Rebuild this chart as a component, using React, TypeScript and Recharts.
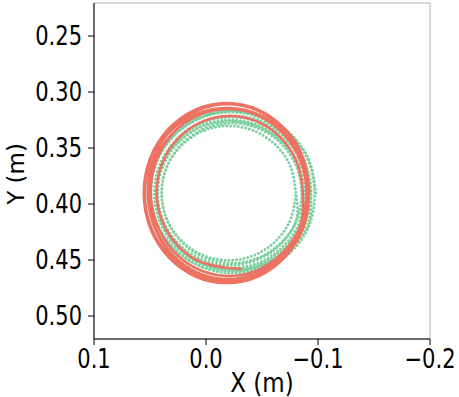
import React from "react";
import { ComposedChart, Line, XAxis, YAxis, CartesianGrid } from "recharts";

// Tick labels
const xTicks = [0.1, 0.0, -0.1, -0.2];
const yTicks = [0.25, 0.3, 0.35, 0.4, 0.45, 0.5];

const redLoop1: [number, number][] = [
  [-0.0926, 0.3902], [-0.087, 0.3594], [-0.0709, 0.3334], [-0.0469, 0.3159],
  [-0.0185, 0.3098], [0.0099, 0.3159], [0.0339, 0.3334], [0.05, 0.3594],
  [0.0556, 0.3902], [0.05, 0.421], [0.0339, 0.447], [0.0099, 0.4645],
  [-0.0185, 0.4706], [-0.0469, 0.4645], [-0.0709, 0.447], [-0.087, 0.421],
];
const redLoop2: [number, number][] = [
  [-0.0917, 0.3902], [-0.0861, 0.3598], [-0.0703, 0.334], [-0.0465, 0.3167],
  [-0.0185, 0.3107], [0.0095, 0.3167], [0.0333, 0.334], [0.0491, 0.3598],
  [0.0547, 0.3902], [0.0491, 0.4206], [0.0333, 0.4464], [0.0095, 0.4637],
  [-0.0185, 0.4697], [-0.0465, 0.4637], [-0.0703, 0.4464], [-0.0861, 0.4206],
];
const redLoop3: [number, number][] = [
  [-0.0908, 0.3893], [-0.0854, 0.3592], [-0.0699, 0.3337], [-0.0467, 0.3167],
  [-0.0194, 0.3107], [0.0079, 0.3167], [0.0311, 0.3337], [0.0466, 0.3592],
  [0.052, 0.3893], [0.0466, 0.4194], [0.0311, 0.4449], [0.0079, 0.4619],
  [-0.0194, 0.4679], [-0.0467, 0.4619], [-0.0699, 0.4449], [-0.0854, 0.4194],
];
const redLoop4: [number, number][] = [
  [-0.0899, 0.3911], [-0.0844, 0.3617], [-0.0687, 0.3368], [-0.0453, 0.3201],
  [-0.0176, 0.3143], [0.0101, 0.3201], [0.0335, 0.3368], [0.0492, 0.3617],
  [0.0547, 0.3911], [0.0492, 0.4205], [0.0335, 0.4454], [0.0101, 0.4621],
  [-0.0176, 0.4679], [-0.0453, 0.4621], [-0.0687, 0.4454], [-0.0844, 0.4205],
];
const redLoop5: [number, number][] = [
  [-0.0899, 0.3911], [-0.0845, 0.362], [-0.0692, 0.3374], [-0.0464, 0.321],
  [-0.0194, 0.3152], [0.0076, 0.321], [0.0304, 0.3374], [0.0457, 0.362],
  [0.0511, 0.3911], [0.0457, 0.4202], [0.0304, 0.4448], [0.0076, 0.4613],
  [-0.0194, 0.467], [-0.0464, 0.4613], [-0.0692, 0.4448], [-0.0845, 0.4202],
];
const redLoop6: [number, number][] = [
  [-0.0899, 0.3893], [-0.0846, 0.3606], [-0.0695, 0.3363], [-0.047, 0.32],
  [-0.0203, 0.3143], [0.0064, 0.32], [0.0289, 0.3363], [0.044, 0.3606],
  [0.0493, 0.3893], [0.044, 0.418], [0.0289, 0.4423], [0.0064, 0.4586],
  [-0.0203, 0.4643], [-0.047, 0.4586], [-0.0695, 0.4423], [-0.0846, 0.418],
];
const redLoop7: [number, number][] = [
  [-0.0864, 0.3893], [-0.0814, 0.3633], [-0.0673, 0.3413], [-0.0462, 0.3266],
  [-0.0212, 0.3214], [0.0038, 0.3266], [0.0249, 0.3413], [0.039, 0.3633],
  [0.044, 0.3893], [0.039, 0.4153], [0.0249, 0.4373], [0.0038, 0.452],
  [-0.0212, 0.4572], [-0.0319, 0.458],
];

// Reference trajectory (green, dotted)
const greenLoop1: [number, number][] = [
  [-0.098, 0.3902], [-0.0923, 0.3618], [-0.076, 0.3378], [-0.0517, 0.3217],
  [-0.023, 0.3161], [0.0057, 0.3217], [0.03, 0.3378], [0.0463, 0.3618],
  [0.052, 0.3902], [0.0463, 0.4186], [0.03, 0.4426], [0.0057, 0.4587],
  [-0.023, 0.4643], [-0.0517, 0.4587], [-0.076, 0.4426], [-0.0923, 0.4186],
];
const greenLoop2: [number, number][] = [
  [-0.097, 0.3893], [-0.0914, 0.3616], [-0.0756, 0.3382], [-0.0518, 0.3225],
  [-0.0238, 0.317], [0.0042, 0.3225], [0.028, 0.3382], [0.0438, 0.3616],
  [0.0494, 0.3893], [0.0438, 0.417], [0.028, 0.4404], [0.0042, 0.4561],
  [-0.0238, 0.4616], [-0.0518, 0.4561], [-0.0756, 0.4404], [-0.0914, 0.417],
];
const greenLoop3: [number, number][] = [
  [-0.0935, 0.3893], [-0.0881, 0.362], [-0.0726, 0.3388], [-0.0494, 0.3233],
  [-0.0221, 0.3179], [0.0052, 0.3233], [0.0284, 0.3388], [0.0439, 0.362],
  [0.0493, 0.3893], [0.0439, 0.4166], [0.0284, 0.4398], [0.0052, 0.4553],
  [-0.0221, 0.4607], [-0.0494, 0.4553], [-0.0726, 0.4398], [-0.0881, 0.4166],
];
const greenLoop4: [number, number][] = [
  [-0.0939, 0.3902], [-0.0886, 0.3638], [-0.0734, 0.3414], [-0.0507, 0.3264],
  [-0.0239, 0.3212], [0.0029, 0.3264], [0.0256, 0.3414], [0.0408, 0.3638],
  [0.0461, 0.3902], [0.0408, 0.4166], [0.0256, 0.4392], [0.0029, 0.454],
  [-0.0239, 0.4592], [-0.0507, 0.454], [-0.0734, 0.4392], [-0.0886, 0.4166],
];
const greenLoop5: [number, number][] = [
  [-0.0909, 0.3902], [-0.0857, 0.3642], [-0.071, 0.3422], [-0.049, 0.3275],
  [-0.023, 0.3223], [0.003, 0.3275], [0.025, 0.3422], [0.0397, 0.3642],
  [0.0449, 0.3902], [0.0397, 0.4162], [0.025, 0.4382], [0.003, 0.4529],
  [-0.023, 0.4581], [-0.049, 0.4529], [-0.071, 0.4382], [-0.0857, 0.4162],
];
const greenLoop6: [number, number][] = [
  [-0.0882, 0.3911], [-0.0832, 0.3658], [-0.0688, 0.3444], [-0.0474, 0.33],
  [-0.0221, 0.325], [0.0032, 0.33], [0.0246, 0.3444], [0.039, 0.3658],
  [0.044, 0.3911], [0.039, 0.4164], [0.0246, 0.4378], [0.0032, 0.4522],
  [-0.0221, 0.4572], [-0.0474, 0.4522], [-0.0688, 0.4378], [-0.0832, 0.4164],
];
const greenLoop7: [number, number][] = [
  [-0.0855, 0.3902], [-0.0806, 0.3656], [-0.0667, 0.3447], [-0.0458, 0.3308],
  [-0.0212, 0.3259], [0.0034, 0.3308], [0.0243, 0.3447], [0.0382, 0.3656],
  [0.0431, 0.3902], [0.0382, 0.4148], [0.0243, 0.4357], [0.0034, 0.4496],
  [-0.0212, 0.4545], [-0.0458, 0.4496], [-0.0667, 0.4357], [-0.0806, 0.4148],
];
const greenLoop8: [number, number][] = [
  [-0.0855, 0.3902], [-0.0808, 0.3663], [-0.0672, 0.346], [-0.0469, 0.3325],
  [-0.023, 0.3277], [0.0009, 0.3325], [0.0212, 0.346], [0.0348, 0.3663],
  [0.0395, 0.3902], [0.0348, 0.4141], [0.0212, 0.4344], [0.0009, 0.4479],
  [-0.023, 0.4527], [-0.0469, 0.4479], [-0.0672, 0.4344], [-0.0808, 0.4141],
];
const greenLoop9: [number, number][] = [
  [-0.0803, 0.3902], [-0.0757, 0.3672], [-0.0627, 0.3478], [-0.0433, 0.3348],
  [-0.0203, 0.3302], [0.0027, 0.3348], [0.0221, 0.3478], [0.0351, 0.3672],
  [0.0397, 0.3902], [0.0351, 0.4132], [0.0221, 0.4326], [0.0027, 0.4456],
  [-0.0203, 0.4502], [-0.0433, 0.4456], [-0.0627, 0.4326], [-0.0757, 0.4132],
  [-0.0803, 0.3902],
];

const toRows = (loops: [number, number][][]) =>
  loops.flat().map(([x, y]) => ({ x, y }));

const redData = toRows([redLoop1, redLoop2, redLoop3, redLoop4, redLoop5, redLoop6, redLoop7]);
const greenData = toRows([
  greenLoop1, greenLoop2, greenLoop3, greenLoop4, greenLoop5,
  greenLoop6, greenLoop7, greenLoop8, greenLoop9,
]);

const FONT = "DejaVu Sans, sans-serif";
const fmtX = (v: number) => v.toFixed(1).replace("-", "\u2212");
const fmtY = (v: number) => v.toFixed(2);

const XTick = (props: any) => {
  const { x, y, payload } = props;
  return (
    <g transform={`translate(${x},${y})`}>
      <text
        transform="scale(1,1.25)"
        textAnchor="middle"
        dy="0.74em"
        fill="#000"
        fontSize={21}
        fontFamily={FONT}
      >
        {fmtX(payload.value)}
      </text>
    </g>
  );
};

const YTick = (props: any) => {
  const { x, y, payload } = props;
  return (
    <g transform={`translate(${x},${y})`}>
      <text
        transform="scale(1,1.25)"
        textAnchor="end"
        dy="0.36em"
        fill="#000"
        fontSize={21}
        fontFamily={FONT}
      >
        {fmtY(payload.value)}
      </text>
    </g>
  );
};

const XLabel = (props: any) => {
  const vb = props.viewBox || { x: 94, y: 339, width: 336, height: 58 };
  const cx = vb.x + vb.width / 2;
  const by = vb.y + vb.height - 5;
  return (
    <g transform={`translate(${cx},${by})`}>
      <text transform="scale(1,1.12)" textAnchor="middle" fill="#000" fontSize={23} fontFamily={FONT}>
        X (m)
      </text>
    </g>
  );
};

const YLabel = (props: any) => {
  const vb = props.viewBox || { x: 0, y: 3, width: 94, height: 336 };
  const cy = vb.y + vb.height / 2 + 3;
  const bx = vb.x + 24;
  return (
    <text
      transform={`translate(${bx},${cy}) rotate(-90)`}
      textAnchor="middle"
      fill="#000"
      fontSize={23}
      fontFamily={FONT}
    >
      Y (m)
    </text>
  );
};

export default function App() {
  return (
    <div style={{ position: "absolute", left: 0, top: 0, width: 459, height: 397, background: "#fff" }}>
      <ComposedChart
        width={459}
        height={397}
        margin={{ top: 3, right: 29, bottom: 0, left: 0 }}
        style={{ fontFamily: FONT }}
      >
        <CartesianGrid stroke="#b0b0b0" strokeWidth={1} />
        <XAxis
          xAxisId="b"
          type="number"
          dataKey="x"
          domain={[-0.2, 0.1]}
          reversed
          ticks={xTicks}
          allowDataOverflow
          height={58}
          tickSize={6}
          tickMargin={4}
          tick={XTick}
          axisLine={{ stroke: "#000", strokeWidth: 1 }}
          tickLine={{ stroke: "#000" }}
          label={XLabel}
        />
        <XAxis
          xAxisId="t"
          orientation="top"
          type="number"
          dataKey="x"
          domain={[-0.2, 0.1]}
          reversed
          height={0}
          tick={false}
          tickLine={false}
          axisLine={{ stroke: "#000", strokeWidth: 1 }}
        />
        <YAxis
          yAxisId="l"
          type="number"
          dataKey="y"
          domain={[0.2205, 0.5205]}
          reversed
          ticks={yTicks}
          allowDataOverflow
          width={94}
          tickSize={6}
          tickMargin={6}
          tick={YTick}
          axisLine={{ stroke: "#000", strokeWidth: 1 }}
          tickLine={{ stroke: "#000" }}
          label={YLabel}
        />
        <YAxis
          yAxisId="r"
          orientation="right"
          type="number"
          dataKey="y"
          domain={[0.2205, 0.5205]}
          reversed
          width={0}
          tick={false}
          tickLine={false}
          axisLine={{ stroke: "#000", strokeWidth: 1 }}
        />
        <Line
          xAxisId="b"
          yAxisId="l"
          data={greenData}
          dataKey="y"
          type="natural"
          stroke="#7dcfa0"
          strokeWidth={3}
          strokeDasharray="0 3.8"
          strokeLinecap="round"
          dot={false}
          activeDot={false}
          isAnimationActive={false}
        />
        <Line
          xAxisId="b"
          yAxisId="l"
          data={redData}
          dataKey="y"
          type="natural"
          stroke="#ee7262"
          strokeWidth={2.5}
          dot={false}
          activeDot={false}
          isAnimationActive={false}
        />
      </ComposedChart>
    </div>
  );
}
